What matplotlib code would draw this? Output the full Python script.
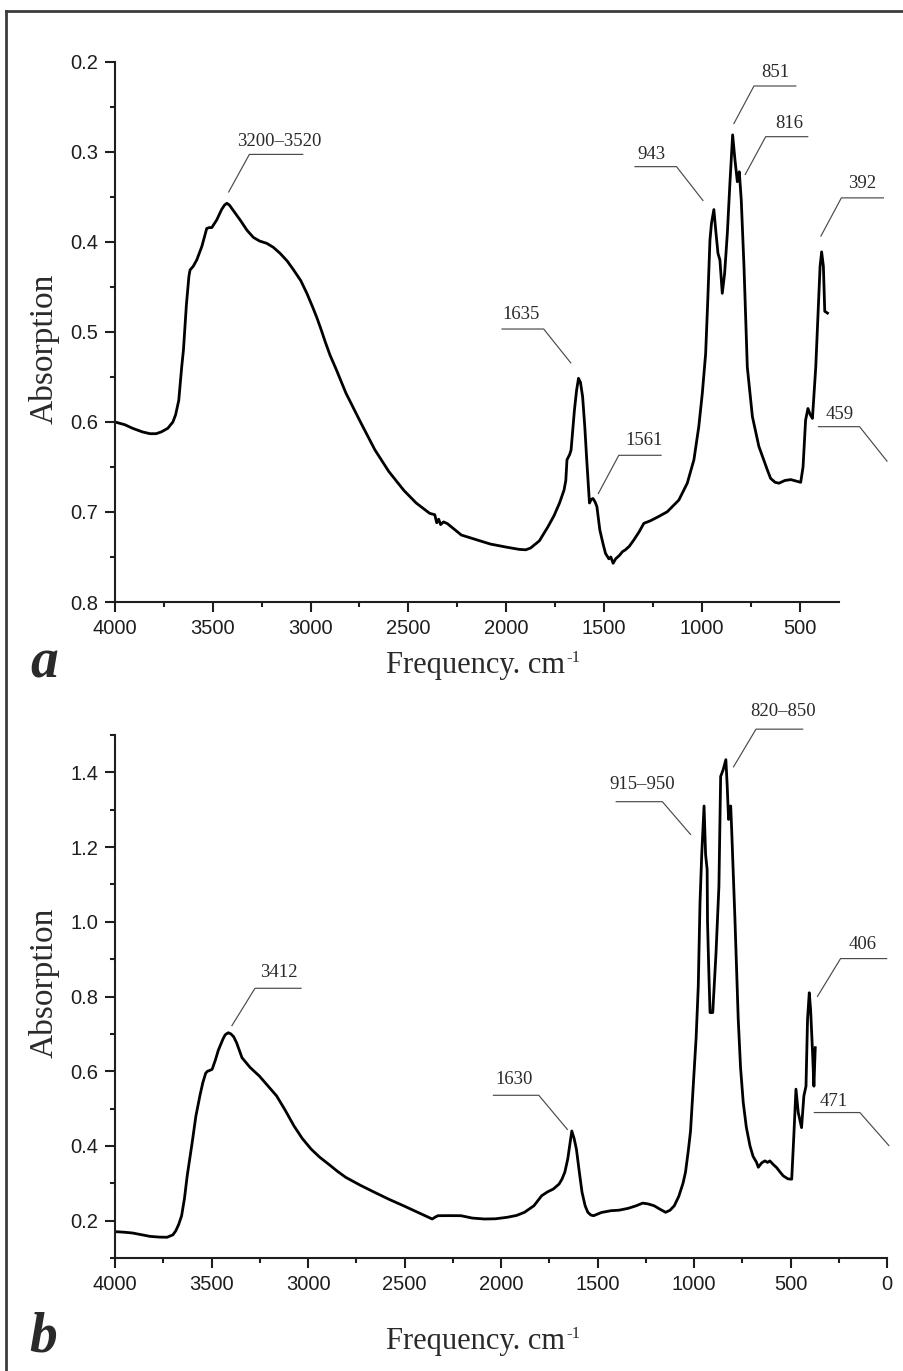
import numpy as np
import matplotlib
matplotlib.use("Agg")
import matplotlib.pyplot as plt
from matplotlib.lines import Line2D
from matplotlib.ticker import MultipleLocator

# ---- spectrum a (wavenumber, absorption) ----
wn_a = [4000, 3950, 3910, 3860, 3821, 3790, 3763, 3730, 3704, 3690, 3674, 3659, 3650, 3635,
        3622, 3616, 3600, 3582, 3556, 3540, 3531, 3518, 3505, 3480, 3455, 3440, 3428, 3415,
        3395, 3360, 3325, 3292, 3260, 3224, 3190, 3156, 3120, 3087, 3050, 3019, 2990, 2968,
        2945, 2925, 2900, 2870, 2819, 2745, 2671, 2600, 2523, 2460, 2391, 2365, 2355, 2345,
        2335, 2320, 2300, 2229, 2150, 2081, 2000, 1934, 1900, 1875, 1830, 1786, 1755, 1727,
        1704, 1695, 1689, 1675, 1668, 1651, 1640, 1630, 1620, 1609, 1598, 1588, 1574, 1565,
        1556, 1545, 1536, 1521, 1505, 1492, 1475, 1465, 1453, 1440, 1420, 1405, 1390, 1370,
        1347, 1320, 1296, 1262, 1220, 1176, 1117, 1074, 1040, 1015, 997, 980, 969, 958, 950,
        938, 928, 917, 907, 895, 883, 869, 856, 842, 830, 818, 808, 798, 784, 767, 741, 708,
        665, 648, 625, 605, 575, 545, 510, 494, 482, 469, 457, 445, 434, 417, 406, 395, 387,
        378, 371, 357]
abs_a = [0.600, 0.603, 0.607, 0.611, 0.613, 0.613, 0.611, 0.607, 0.600, 0.592, 0.576, 0.539,
         0.520, 0.470, 0.438, 0.431, 0.427, 0.420, 0.405, 0.392, 0.385, 0.384, 0.384, 0.3756,
         0.364, 0.359, 0.357, 0.359, 0.365, 0.3756, 0.387, 0.395, 0.399, 0.4015, 0.406, 0.4126,
         0.421, 0.431, 0.443, 0.457, 0.472, 0.484, 0.498, 0.511, 0.526, 0.541, 0.568, 0.600,
         0.631, 0.655, 0.676, 0.690, 0.7015, 0.703, 0.712, 0.708, 0.714, 0.711, 0.713, 0.7256,
         0.731, 0.7356, 0.739, 0.7415, 0.742, 0.740, 0.732, 0.7163, 0.704, 0.690, 0.6756,
         0.665, 0.642, 0.636, 0.631, 0.587, 0.565, 0.5515, 0.556, 0.572, 0.605, 0.642, 0.690,
         0.686, 0.685, 0.689, 0.694, 0.720, 0.735, 0.746, 0.752, 0.750, 0.757, 0.752, 0.748,
         0.744, 0.742, 0.738, 0.731, 0.722, 0.7126, 0.7097, 0.705, 0.6997, 0.6867, 0.668,
         0.642, 0.605, 0.568, 0.524, 0.464, 0.398, 0.379, 0.364, 0.388, 0.4126, 0.420, 0.457,
         0.435, 0.390, 0.335, 0.281, 0.309, 0.333, 0.322, 0.353, 0.427, 0.539, 0.594, 0.627,
         0.653, 0.6626, 0.667, 0.668, 0.665, 0.664, 0.666, 0.667, 0.650, 0.598, 0.585, 0.592,
         0.596, 0.539, 0.483, 0.4274, 0.411, 0.427, 0.477, 0.479]

# ---- spectrum b ----
wn_b = [4000, 3950, 3909, 3860, 3819, 3770, 3730, 3700, 3685, 3670, 3655, 3640, 3626, 3600,
        3581, 3560, 3545, 3530, 3521, 3510, 3497, 3480, 3465, 3450, 3440, 3430, 3420, 3413,
        3400, 3385, 3370, 3356, 3342, 3300, 3252, 3210, 3163, 3120, 3073, 3030, 2984, 2940,
        2894, 2850, 2805, 2730, 2656, 2580, 2506, 2430, 2380, 2357, 2340, 2327, 2270, 2208,
        2150, 2088, 2030, 1969, 1920, 1879, 1830, 1790, 1760, 1730, 1700, 1685, 1670, 1655,
        1645, 1634, 1622, 1610, 1595, 1581, 1565, 1551, 1535, 1521, 1480, 1431, 1390, 1342,
        1300, 1267, 1240, 1208, 1175, 1148, 1125, 1103, 1080, 1058, 1045, 1030, 1019, 1005,
        990, 979, 970, 961, 949, 941, 933, 931, 925, 918, 904, 887, 872, 863, 850, 836, 829,
        822, 811, 806, 789, 772, 760, 746, 730, 711, 695, 677, 668, 650, 634, 620, 608, 590,
        573, 555, 539, 515, 495, 484, 473, 461, 444, 432, 421, 413, 404, 397, 387, 380, 373]
abs_b = [0.1706, 0.169, 0.167, 0.162, 0.158, 0.156, 0.1556, 0.162, 0.173, 0.190, 0.213, 0.260,
         0.320, 0.410, 0.480, 0.535, 0.5696, 0.595, 0.600, 0.602, 0.605, 0.630, 0.656, 0.675,
         0.687, 0.697, 0.701, 0.703, 0.700, 0.692, 0.676, 0.656, 0.636, 0.610, 0.587, 0.562,
         0.534, 0.497, 0.4537, 0.420, 0.3915, 0.370, 0.3514, 0.333, 0.316, 0.295, 0.276, 0.257,
         0.240, 0.222, 0.210, 0.2045, 0.210, 0.2133, 0.2135, 0.2133, 0.207, 0.2045, 0.205,
         0.209, 0.214, 0.2224, 0.240, 0.2668, 0.277, 0.2846, 0.298, 0.311, 0.330, 0.365, 0.400,
         0.440, 0.420, 0.391, 0.330, 0.276, 0.240, 0.2224, 0.215, 0.2133, 0.222, 0.2267, 0.228,
         0.233, 0.240, 0.247, 0.245, 0.240, 0.230, 0.2224, 0.228, 0.240, 0.265, 0.300, 0.330,
         0.390, 0.440, 0.560, 0.690, 0.827, 1.050, 1.180, 1.310, 1.180, 1.140, 1.000, 0.880,
         0.757, 0.757, 0.917, 1.095, 1.389, 1.407, 1.434, 1.363, 1.274, 1.310, 1.247, 1.007,
         0.740, 0.610, 0.516, 0.450, 0.400, 0.372, 0.356, 0.343, 0.355, 0.360, 0.356, 0.360,
         0.350, 0.342, 0.330, 0.320, 0.312, 0.311, 0.427, 0.552, 0.489, 0.449, 0.534, 0.560,
         0.739, 0.810, 0.764, 0.650, 0.560, 0.663]

# peak labels: text, text position (baseline), leader polyline tip -> elbow -> shelf end
labels_a = ["3200–3520", "851", "816", "943", "392", "1635", "1561", "459"]
text_a = [(3158, 0.293), (622, 0.217), (554, 0.273), (1257, 0.308), (182, 0.340),
          (1922, 0.486), (1294, 0.626), (297, 0.597)]
lead_a = [[(3420, 0.345), (3313, 0.3027), (3037, 0.3027)],
          [(837, 0.269), (733, 0.2267), (516, 0.2267)],
          [(779, 0.3256), (673, 0.283), (455, 0.283)],
          [(992, 0.3544), (1129, 0.3163), (1344, 0.3163)],
          [(392, 0.394), (286, 0.351), (68, 0.351)],
          [(1668, 0.5348), (1808, 0.4967), (2024, 0.4967)],
          [(1530, 0.680), (1424, 0.637), (1205, 0.637)],
          [(51, 0.644), (193, 0.6052), (406, 0.6052)]]

labels_b = ["3412", "915–950", "820–850", "406", "1630", "471"]
text_b = [(3154, 0.852), (1272, 1.355), (539, 1.551), (128, 0.928), (1933, 0.566), (276, 0.508)]
lead_b = [[(3396, 0.7207), (3275, 0.822), (3033, 0.822)],
          [(1017, 1.2326), (1165, 1.3215), (1407, 1.3215)],
          [(798, 1.4133), (680, 1.5156), (435, 1.5156)],
          [(363, 0.799), (242, 0.9015), (0, 0.9015)],
          [(1655, 0.443), (1805, 0.5356), (2043, 0.5356)],
          [(-10, 0.400), (142, 0.4894), (381, 0.4894)]]

SERIF = "Liberation Serif"
SANS = "Liberation Sans"
INK = "#1e1e1e"


def style_axes(ax):
    for side in ["top", "right"]:
        ax.spines[side].set_visible(False)
    for side in ["left", "bottom"]:
        ax.spines[side].set_linewidth(1.5)
        ax.spines[side].set_color(INK)
    ax.tick_params(which="major", direction="out", length=7, width=1.5, color=INK,
                   labelsize=14.5, labelcolor=INK, pad=5)
    ax.tick_params(which="minor", direction="out", length=3.6, width=1.5, color=INK)
    for lbl in ax.get_xticklabels() + ax.get_yticklabels():
        lbl.set_fontfamily(SANS)


def add_peak_labels(ax, labels, texts, leads):
    for lab, (tx, ty), pts in zip(labels, texts, leads):
        xs = [p[0] for p in pts]
        ys = [p[1] for p in pts]
        ax.plot(xs, ys, color="#4a4a4a", lw=0.85, clip_on=False, solid_capstyle="butt")
        ax.text(tx, ty, lab, ha="center", va="baseline", fontsize=13.5, family=SERIF,
                color="#2a2a2a", clip_on=False)


def freq_label(fig, x, y):
    t = fig.text(x, y, "Frequency. cm", ha="center", va="baseline", fontsize=22,
                 family=SERIF, color="#2a2a2a")
    plt.annotate("-1", xy=(1, 1), xycoords=t, xytext=(1, 1), textcoords="offset points",
                 ha="left", va="top", fontsize=12, family=SERIF, color="#2a2a2a",
                 annotation_clip=False)


def main():
    fig = plt.figure(figsize=(9.04, 13.71), dpi=100, facecolor="white")

    # outer frame (only top and left edges are visible in the crop)
    fig.add_artist(Line2D([0.0066, 0.0066], [0.0, 0.992], transform=fig.transFigure,
                          color="#3c3c3c", lw=2.0))
    fig.add_artist(Line2D([0.0066, 1.0], [0.992, 0.992], transform=fig.transFigure,
                          color="#3c3c3c", lw=2.0))

    # --- panel a ---
    ax1 = fig.add_axes([0.1272, 0.5609, 0.8005, 0.3939])
    ax1.plot(wn_a, abs_a, color="black", lw=2.0, solid_joinstyle="round")
    ax1.set_xlim(4000, 300)
    ax1.set_ylim(0.8, 0.2)
    ax1.xaxis.set_major_locator(MultipleLocator(500))
    ax1.xaxis.set_minor_locator(MultipleLocator(250))
    ax1.yaxis.set_major_locator(MultipleLocator(0.1))
    ax1.yaxis.set_minor_locator(MultipleLocator(0.05))
    style_axes(ax1)
    add_peak_labels(ax1, labels_a, text_a, lead_a)

    # --- panel b ---
    ax2 = fig.add_axes([0.1272, 0.0824, 0.8543, 0.3815])
    ax2.plot(wn_b, abs_b, color="black", lw=2.0, solid_joinstyle="round")
    ax2.set_xlim(4000, 0)
    ax2.set_ylim(0.1, 1.5)
    ax2.xaxis.set_major_locator(MultipleLocator(500))
    ax2.xaxis.set_minor_locator(MultipleLocator(250))
    ax2.yaxis.set_major_locator(MultipleLocator(0.2))
    ax2.yaxis.set_minor_locator(MultipleLocator(0.1))
    style_axes(ax2)
    add_peak_labels(ax2, labels_b, text_b, lead_b)

    # axis titles and panel letters
    for yc in [0.7454, 0.283]:
        fig.text(0.0483, yc, "Absorption", rotation=90, ha="center", va="center",
                 fontsize=24, family=SERIF, color="#2a2a2a")
    freq_label(fig, 0.526, 0.5091)
    freq_label(fig, 0.526, 0.016)
    fig.text(0.034, 0.506, "a", fontsize=40, family=SERIF, weight="bold", style="italic",
             color="#2a2a2a", va="baseline")
    fig.text(0.032, 0.014, "b", fontsize=40, family=SERIF, weight="bold", style="italic",
             color="#2a2a2a", va="baseline")

    fig.savefig("out.png", dpi=100)
    plt.close(fig)


if __name__ == "__main__":
    main()
